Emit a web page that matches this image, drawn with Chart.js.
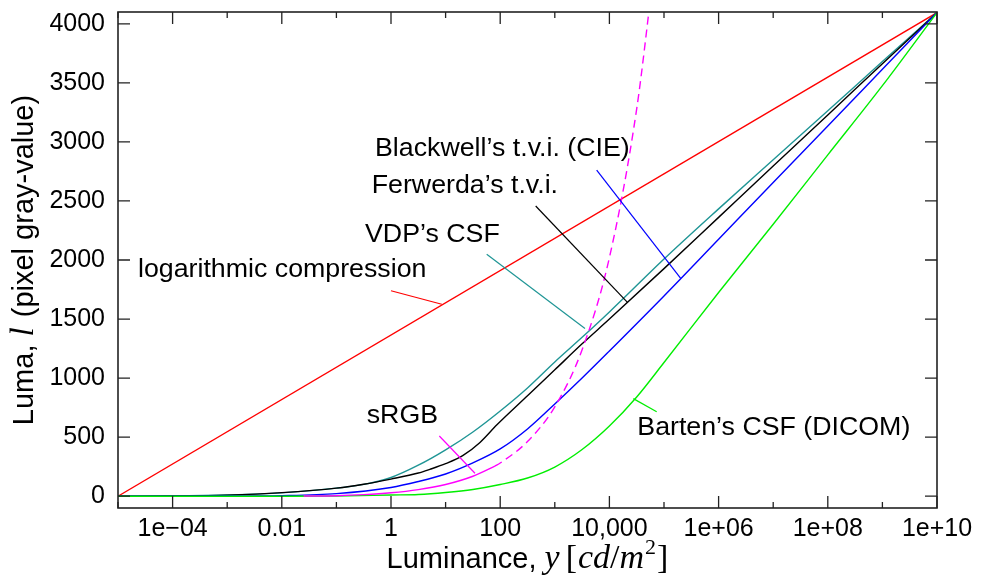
<!DOCTYPE html>
<html>
<head>
<meta charset="utf-8">
<script src="https://cdn.jsdelivr.net/npm/chart.js@4.4.0/dist/chart.umd.min.js"></script>
<style>
  html, body { margin: 0; padding: 0; background: #fff; }
</style>
</head>
<body>
<canvas id="chart" width="982" height="576"></canvas>
<script>
// luminance is stored as log10(cd/m^2), luma as pixel gray-value
const logCompLog = [-5, 10];
const logCompLuma = [0, 4095];

const vdpLog = [-5, -4, -3, -2, -1, -0.5, 0, 0.5, 1, 1.5, 2, 2.5, 3, 3.5, 4, 5, 6, 7, 8, 9, 10];
const vdpLuma = [0, 2, 10, 28, 68, 100, 158, 262, 392, 544, 722, 917, 1137, 1345, 1560, 2008, 2433, 2849, 3264, 3680, 4095];

const ferwerdaLog = [-5, -4, -3, -2, -1, -0.5, 0, 0.5, 0.71, 1, 1.32, 1.63, 1.94, 2.5, 3, 3.5, 4, 5, 6, 7, 8, 9, 10];
const ferwerdaLuma = [0, 2, 9, 30, 68, 101, 145, 196, 227, 275, 345, 455, 604, 850, 1070, 1290, 1500, 1927, 2361, 2795, 3228, 3662, 4095];

const blackwellLog = [-5, -4, -3, -2, -1, 0, 0.5, 1, 1.5, 2, 2.5, 3, 3.5, 4, 5, 6, 7, 8, 9, 10];
const blackwellLuma = [0, 0, 1, 5, 22, 74, 124, 188, 282, 400, 569, 781, 1001, 1230, 1696, 2176, 2656, 3135, 3615, 4095];

const bartenLog = [-5, -3, -2, -1, 0, 0.5, 1, 1.5, 2, 2.5, 3, 3.5, 4, 4.5, 5, 6, 7, 8, 9, 10];
const bartenLuma = [0, 0, 0, 2, 10, 14, 31, 57, 99, 154, 247, 395, 594, 840, 1132, 1725, 2303, 2890, 3476, 4095];

const srgbLog = [-1.6, -1, -0.5, 0, 0.5, 1, 1.5, 1.903];
const srgbLuma = [1, 4, 13, 29, 56, 99, 169, 255];
const srgbExtLog = [1.903, 2, 2.5, 3, 3.5, 4, 4.5, 4.8];
const srgbExtLuma = [255, 281, 463, 757, 1240, 2020, 3280, 4400];

const xTickExp = [-5, -4, -3, -2, -1, 0, 1, 2, 3, 4, 5, 6, 7, 8, 9, 10];
const xLabelExp = [-4, -2, 0, 2, 4, 6, 8, 10];
const xTickLabels = ['1e\u221204', '0.01', '1', '100', '10,000', '1e+06', '1e+08', '1e+10'];
const yTickValues = [0, 500, 1000, 1500, 2000, 2500, 3000, 3500, 4000];

// curve labels: text, where it sits (log lum, luma), leader line (from, to)
const labelText = ['logarithmic compression', 'VDP\u2019s CSF', 'Ferwerda\u2019s t.v.i.', 'Blackwell\u2019s t.v.i. (CIE)', 'sRGB', 'Barten\u2019s CSF (DICOM)'];
const labelAt = [[-4.634, 1856], [-0.476, 2155], [-0.353, 2565], [-0.293, 2881], [-0.445, 617], [4.511, 518]];
const leaderFrom = [[0.0, 1740], [1.753, 2048], [2.65, 2457], [3.767, 2762], [0.885, 510], [4.438, 826]];
const leaderTo = [[0.93, 1625], [3.553, 1420], [4.335, 1639], [5.306, 1844], [1.538, 194], [4.866, 715]];

const RED = '#ff0000', TEAL = '#1f9595', BLACK = '#000000', BLUE = '#0000ff', GREEN = '#00ee00', MAGENTA = '#ff00ff';
const leaderColors = [RED, TEAL, BLACK, BLUE, MAGENTA, GREEN];

const SANS = "'Liberation Sans', Arial, sans-serif";
const SERIF = "'Liberation Serif', 'Times New Roman', serif";

const toPts = (logs, vals) => logs.map((d, i) => ({ x: Math.pow(10, d), y: vals[i] }));

function line(label, logs, vals, color, extra) {
  return Object.assign({
    label: label,
    data: toPts(logs, vals),
    borderColor: color,
    borderWidth: 1.4,
    pointRadius: 0,
    fill: false,
    cubicInterpolationMode: 'monotone'
  }, extra || {});
}

function drawRuns(ctx, runs, x, y) {
  runs.forEach(r => {
    ctx.font = r.font;
    ctx.fillText(r.text, x, y + (r.dy || 0));
    x += ctx.measureText(r.text).width + (r.gap || 0);
  });
}
function runsWidth(ctx, runs) {
  return runs.reduce((w, r) => { ctx.font = r.font; return w + ctx.measureText(r.text).width + (r.gap || 0); }, 0);
}

const decor = {
  id: 'decor',
  afterDatasetsDraw(chart) {
    const { ctx, chartArea: a, scales: { x, y } } = chart;
    const px = d => x.getPixelForValue(Math.pow(10, d));
    ctx.save();

    // leader lines + curve labels
    ctx.lineWidth = 1.2;
    leaderFrom.forEach((f, i) => {
      const t = leaderTo[i];
      ctx.strokeStyle = leaderColors[i];
      ctx.beginPath();
      ctx.moveTo(px(f[0]), y.getPixelForValue(f[1]));
      ctx.lineTo(px(t[0]), y.getPixelForValue(t[1]));
      ctx.stroke();
    });
    ctx.fillStyle = '#000';
    ctx.font = '25px ' + SANS;
    ctx.textBaseline = 'alphabetic';
    ctx.textAlign = 'left';
    labelText.forEach((s, i) => {
      ctx.save();
      ctx.translate(px(labelAt[i][0]), y.getPixelForValue(labelAt[i][1]));
      ctx.scale(1.07, 1); // source font runs a little wider than Liberation Sans
      ctx.fillText(s, 0, 0);
      ctx.restore();
    });

    // frame with inward ticks on all four sides
    ctx.strokeStyle = '#222';
    ctx.lineWidth = 1.6;
    ctx.strokeRect(a.left, a.top, a.right - a.left, a.bottom - a.top);
    ctx.lineWidth = 1.3;
    ctx.beginPath();
    xTickExp.forEach(e => {
      const p = px(e);
      const len = xLabelExp.includes(e) ? 12 : 6;
      ctx.moveTo(p, a.bottom); ctx.lineTo(p, a.bottom - len);
      ctx.moveTo(p, a.top); ctx.lineTo(p, a.top + len);
    });
    yTickValues.forEach(v => {
      const p = y.getPixelForValue(v);
      ctx.moveTo(a.left, p); ctx.lineTo(a.left + 12, p);
      ctx.moveTo(a.right, p); ctx.lineTo(a.right - 12, p);
    });
    ctx.stroke();
    ctx.restore();
  },
  afterDraw(chart) {
    const { ctx, chartArea: a } = chart;
    ctx.save();
    ctx.fillStyle = '#000';
    ctx.textAlign = 'left';
    ctx.textBaseline = 'alphabetic';

    const xRuns = [
      { text: 'Luminance, ', font: '29px ' + SANS },
      { text: 'y', font: 'italic 34px ' + SERIF, gap: 6 },
      { text: '[', font: '34px ' + SERIF, gap: 1 },
      { text: 'cd', font: 'italic 34px ' + SERIF },
      { text: '/', font: '34px ' + SERIF },
      { text: 'm', font: 'italic 34px ' + SERIF, gap: 1 },
      { text: '2', font: '22px ' + SERIF, dy: -14, gap: 1 },
      { text: ']', font: '34px ' + SERIF }
    ];
    const xw = runsWidth(ctx, xRuns);
    drawRuns(ctx, xRuns, (a.left + a.right) / 2 - xw / 2, a.bottom + 60);

    const yRuns = [
      { text: 'Luma, ', font: '29px ' + SANS },
      { text: 'l', font: 'italic 33px ' + SERIF, gap: 2 },
      { text: ' (pixel gray-value)', font: '29px ' + SANS }
    ];
    const yw = runsWidth(ctx, yRuns);
    ctx.translate(a.left - 85, (a.top + a.bottom) / 2);
    ctx.rotate(-Math.PI / 2);
    drawRuns(ctx, yRuns, -yw / 2, 0);
    ctx.restore();
  }
};

new Chart(document.getElementById('chart'), {
  type: 'line',
  data: {
    datasets: [
      line('sRGB', srgbLog, srgbLuma, MAGENTA),
      line('sRGB (extended)', srgbExtLog, srgbExtLuma, MAGENTA, { borderDash: [8, 5] }),
      line('Barten\u2019s CSF (DICOM)', bartenLog, bartenLuma, GREEN),
      line('Blackwell\u2019s t.v.i. (CIE)', blackwellLog, blackwellLuma, BLUE),
      line('Ferwerda\u2019s t.v.i.', ferwerdaLog, ferwerdaLuma, BLACK),
      line('VDP\u2019s CSF', vdpLog, vdpLuma, TEAL),
      line('logarithmic compression', logCompLog, logCompLuma, RED)
    ]
  },
  options: {
    responsive: false,
    animation: false,
    layout: { padding: { top: 12, right: 45, left: 0, bottom: 0 } },
    plugins: { legend: { display: false }, tooltip: { enabled: false } },
    scales: {
      x: {
        type: 'logarithmic',
        min: 1e-5,
        max: 1e10,
        grid: { display: false, drawTicks: false },
        border: { display: false },
        afterBuildTicks: s => { s.ticks = xTickExp.map(e => ({ value: Math.pow(10, e) })); },
        afterFit: s => { s.height = 68; s.paddingLeft = 0; s.paddingRight = 0; },
        ticks: {
          autoSkip: false,
          maxRotation: 0,
          padding: 6,
          color: '#000',
          font: { family: SANS, size: 25 },
          callback: v => {
            const i = xLabelExp.indexOf(Math.round(Math.log10(v)));
            return i >= 0 ? xTickLabels[i] : '';
          }
        }
      },
      y: {
        min: -100,
        max: 4100,
        grid: { display: false, drawTicks: false },
        border: { display: false },
        afterBuildTicks: s => { s.ticks = yTickValues.map(v => ({ value: v })); },
        afterFit: s => { s.width = 118; s.paddingTop = 0; s.paddingBottom = 0; },
        ticks: {
          padding: 13,
          color: '#000',
          font: { family: SANS, size: 25 },
          callback: v => String(v)
        }
      }
    }
  },
  plugins: [decor]
});
</script>
</body>
</html>
